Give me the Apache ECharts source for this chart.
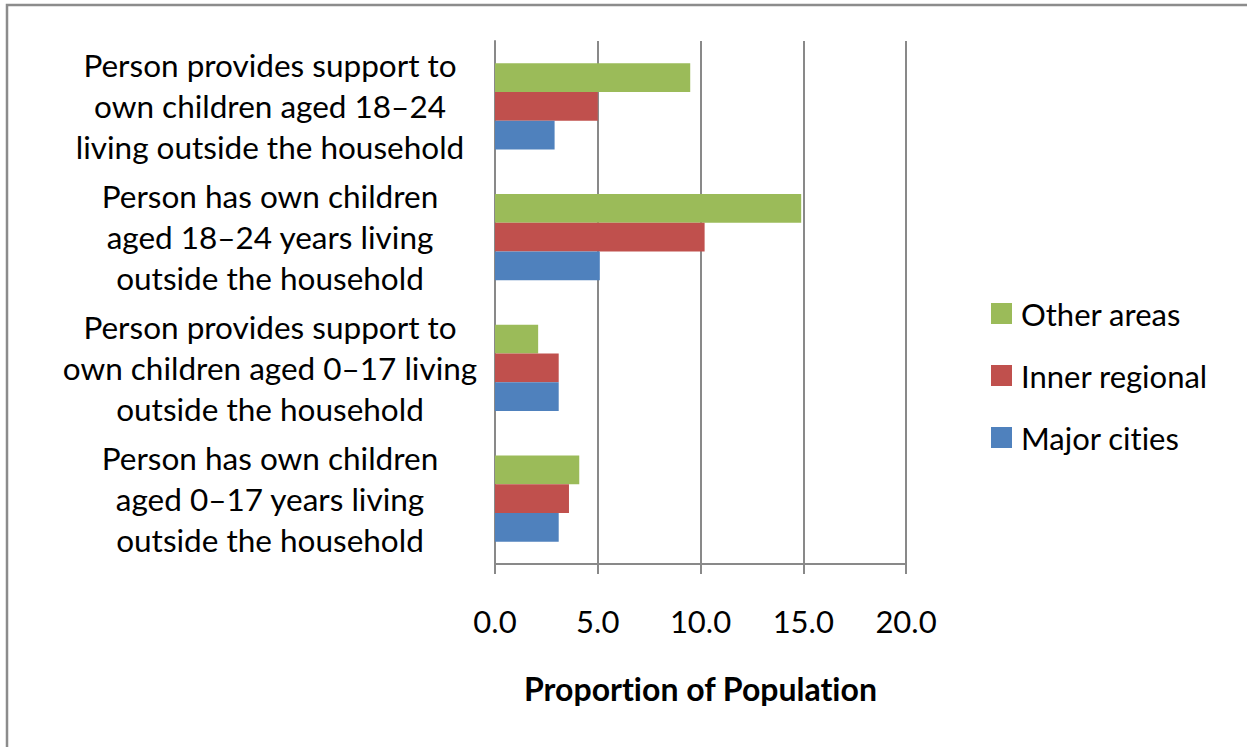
<!DOCTYPE html>
<html>
<head>
<meta charset="utf-8">
<script src="https://cdn.jsdelivr.net/npm/echarts@6/dist/echarts.min.js"></script>
<style>
  html, body { margin: 0; padding: 0; background: #fff; }
  #chart { width: 1247px; height: 747px; font-variant-ligatures: none; font-feature-settings: "liga" 0, "clig" 0; }
</style>
</head>
<body>
<div id="chart"></div>
<script>
// Categories listed bottom-to-top (category axis starts at the bottom)
const categories = [
  'Person has own children\naged 0–17 years living\noutside the household',
  'Person provides support to\nown children aged 0–17 living\noutside the household',
  'Person has own children\naged 18–24 years living\noutside the household',
  'Person provides support to\nown children aged 18–24\nliving outside the household'
];

// Proportion of population (%), same order as categories
const majorCities   = [3.1, 3.1, 5.1, 2.9];
const innerRegional = [3.6, 3.1, 10.2, 5.0];
const otherAreas    = [4.1, 2.1, 14.9, 9.5];

const xTicks = { min: 0, max: 20, interval: 5 };
const legendOrder = ['Other areas', 'Inner regional', 'Major cities'];

const FONT = 'Lato';
const GRID_GREY = '#898989';

const chart = echarts.init(document.getElementById('chart'), null, { renderer: 'svg' });

function barSeries(name, data, color) {
  return {
    name: name,
    type: 'bar',
    data: data,
    barGap: '0%',
    barCategoryGap: '34%',
    itemStyle: { color: color },
    animation: false
  };
}

chart.setOption({
  animation: false,
  backgroundColor: '#ffffff',
  textStyle: { fontFamily: FONT, color: '#000' },
  graphic: [{
    type: 'rect',
    shape: { x: 7, y: 5, width: 1260, height: 760 },
    style: { fill: 'none', stroke: '#8c8c8c', lineWidth: 2.5 },
    silent: true
  }],
  grid: { left: 495, right: 341, top: 41, bottom: 183, containLabel: false },
  legend: {
    orient: 'vertical',
    left: 991,
    top: 298,
    padding: 0,
    itemWidth: 21,
    itemHeight: 21,
    itemGap: 31,
    icon: 'rect',
    data: legendOrder,
    textStyle: { fontFamily: FONT, fontSize: 31, color: '#000', padding: [0, 0, 0, 4] }
  },
  xAxis: {
    type: 'value',
    min: xTicks.min,
    max: xTicks.max,
    interval: xTicks.interval,
    name: 'Proportion of Population',
    nameLocation: 'middle',
    nameGap: 108,
    nameTextStyle: { fontFamily: FONT, fontSize: 32, fontWeight: 'bold', color: '#000' },
    axisLine: { show: true, lineStyle: { color: GRID_GREY, width: 2 } },
    axisTick: { show: true, length: 10, lineStyle: { color: GRID_GREY, width: 2 } },
    axisLabel: {
      margin: 41,
      fontFamily: FONT,
      fontSize: 31,
      color: '#000',
      formatter: v => v.toFixed(1)
    },
    splitLine: { show: true, lineStyle: { color: GRID_GREY, width: 2 } }
  },
  yAxis: {
    type: 'category',
    data: categories,
    axisLine: { show: true, lineStyle: { color: GRID_GREY, width: 2 } },
    axisTick: { show: false },
    axisLabel: {
      margin: 225,
      align: 'center',
      fontFamily: FONT,
      fontSize: 31.5,
      lineHeight: 41,
      color: '#000',
      interval: 0
    }
  },
  // series order puts 'Other areas' at the top of each group
  series: [
    barSeries('Other areas', otherAreas, '#9BBB59'),
    barSeries('Inner regional', innerRegional, '#C0504D'),
    barSeries('Major cities', majorCities, '#4F81BD')
  ]
});
</script>
</body>
</html>
